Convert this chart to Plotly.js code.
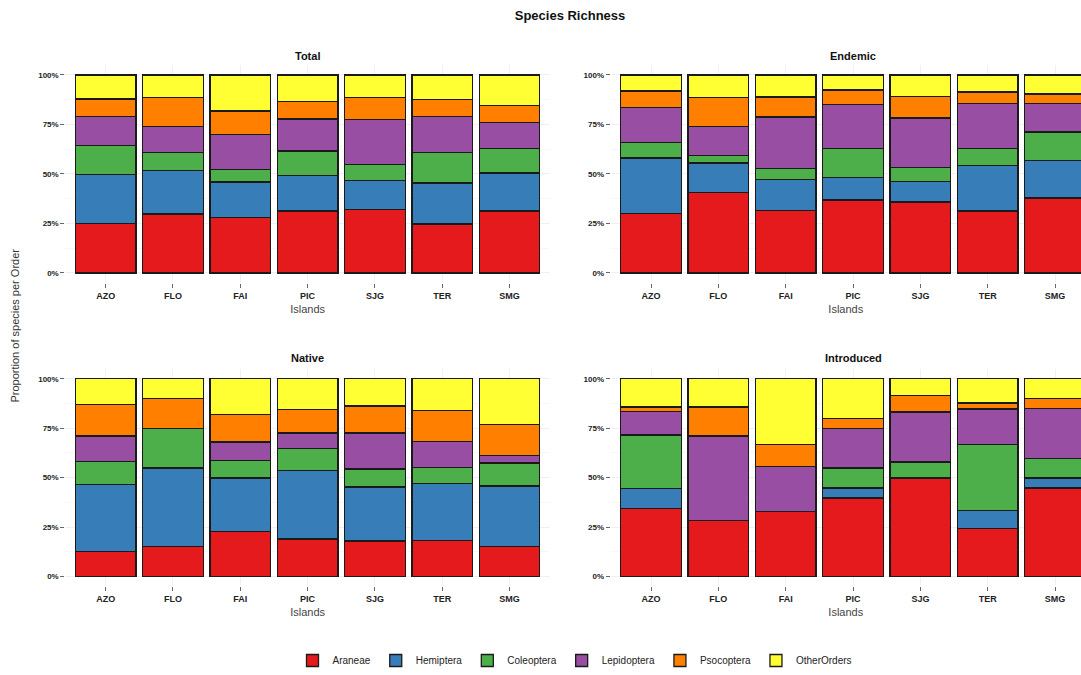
<!DOCTYPE html>
<html>
<head>
<meta charset="utf-8">
<script src="https://cdn.plot.ly/plotly-3.0.1.min.js"></script>
<style>
html,body{margin:0;padding:0;background:#fff;overflow:hidden;}
#chart{width:1081px;height:675px;}
</style>
</head>
<body>
<div id="chart"></div>
<script>
const islands = ["AZO", "FLO", "FAI", "PIC", "SJG", "TER", "SMG"];
const orders = ["Araneae", "Hemiptera", "Coleoptera", "Lepidoptera", "Psocoptera", "OtherOrders"];
const colors = ["#E41A1C", "#377EB8", "#4DAF4A", "#984EA3", "#FF7F00", "#FFFF33"];
const panels = ["Total", "Endemic", "Native", "Introduced"];

// percent of species per order (rows = orders, columns = islands)
const totalVals = [
  [24.9, 29.7, 28.1, 31.3, 32.1, 24.7, 31.3],
  [24.7, 21.9, 17.8, 17.8, 14.5, 20.7, 19.1],
  [14.8, 9.2, 6.2, 12.4, 8.2, 15.4, 12.3],
  [14.6, 13.1, 17.8, 16.3, 22.5, 18.2, 13.1],
  [8.9, 14.8, 11.9, 8.6, 11.4, 8.4, 8.9],
  [12.1, 11.3, 18.2, 13.6, 11.3, 12.6, 15.3]
];
const endemicVals = [
  [30.1, 40.5, 31.4, 36.8, 35.8, 31.3, 37.8],
  [27.9, 15.0, 15.8, 11.4, 10.4, 23.0, 19.0],
  [8.0, 3.7, 5.4, 14.5, 7.2, 8.6, 14.3],
  [17.7, 14.6, 26.2, 22.3, 24.9, 22.8, 14.4],
  [8.1, 14.8, 10.1, 7.3, 10.8, 5.6, 4.9],
  [8.2, 11.4, 11.1, 7.7, 10.9, 8.7, 9.6]
];
const nativeVals = [
  [12.6, 15.2, 22.6, 19.0, 18.0, 18.2, 15.3],
  [34.0, 39.7, 27.2, 34.5, 27.3, 28.9, 30.5],
  [11.5, 19.8, 9.0, 11.3, 9.1, 7.9, 11.6],
  [12.9, 0, 9.2, 7.8, 18.2, 13.2, 3.9],
  [16.0, 15.2, 13.8, 11.7, 13.6, 15.6, 15.5],
  [13.0, 10.1, 18.2, 15.7, 13.8, 16.2, 23.2]
];
const introducedVals = [
  [34.5, 28.3, 33.0, 39.7, 49.8, 24.2, 44.8],
  [10.1, 0, 0, 5.1, 0, 9.1, 5.0],
  [26.9, 0, 0, 10.1, 8.1, 33.5, 10.0],
  [11.8, 42.7, 22.6, 19.8, 25.3, 17.9, 25.0],
  [2.4, 14.7, 11.2, 5.3, 8.2, 3.0, 5.1],
  [14.3, 14.3, 33.2, 20.0, 8.6, 12.3, 10.1]
];
const panelVals = [totalVals, endemicVals, nativeVals, introducedVals];
const yTickVals = [0, 25, 50, 75, 100];
const yTickText = ["0%", "25%", "50%", "75%", "100%"];

const W = 1081, H = 675;
const FONT = "Liberation Sans, Arial, sans-serif";
const axisIds = ["", "2", "3", "4"];

const traces = [];
panels.forEach((p, pi) => {
  orders.forEach((o, oi) => {
    traces.push({
      type: "bar",
      name: o,
      x: islands,
      y: panelVals[pi][oi],
      xaxis: "x" + axisIds[pi],
      yaxis: "y" + axisIds[pi],
      marker: {color: colors[oi], line: {color: "#1a1a1a", width: 1.3}},
      legendgroup: o,
      showlegend: pi === 0,
      hovertemplate: p + " %{x}<br>" + o + ": %{y}%<extra></extra>"
    });
  });
});

// pixel geometry
const leftX = [65.3 / W, 549.9 / W];
const rightX = [610.6 / W, 1];
const rightRangeEnd = (W - 610.6) / 67.35 - 0.6;
const topY = [1 - 283.2 / H, 1 - 65.1 / H];
const botY = [1 - 587.2 / H, 1 - 369.4 / H];

function xAxis(domain, range, anchor) {
  return {
    domain: domain, range: range, anchor: anchor,
    type: "category",
    showgrid: true, gridcolor: "#f0f0f0", gridwidth: 1,
    zeroline: false, showline: false,
    ticks: "outside", ticklen: 4, tickcolor: "#666", tickwidth: 1,
    tickfont: {family: FONT, size: 9, color: "#222", weight: "bold"},
    title: {text: "Islands", font: {family: FONT, size: 11, color: "#444"}, standoff: 5},
    fixedrange: true
  };
}
function yAxis(domain, anchor) {
  return {
    domain: domain, anchor: anchor,
    range: [-5, 105],
    tickvals: yTickVals, ticktext: yTickText,
    showgrid: true, gridcolor: "#f0f0f0", gridwidth: 1,
    minor: {dtick: 12.5, tick0: 12.5, showgrid: true, gridcolor: "#f7f7f7", ticks: ""},
    zeroline: false, showline: false,
    ticks: "outside", ticklen: 4, tickcolor: "#666", tickwidth: 1,
    tickfont: {family: FONT, size: 8, color: "#222", weight: "bold"},
    fixedrange: true
  };
}

function label(text, x, y, extra) {
  return Object.assign({text: text, x: x, y: y, xref: "paper", yref: "paper",
    xanchor: "center", yanchor: "middle", showarrow: false,
    font: {family: FONT, size: 11, color: "#111"}}, extra || {});
}

const layout = {
  width: W, height: H,
  margin: {l: 0, r: 0, t: 0, b: 0},
  paper_bgcolor: "#fff", plot_bgcolor: "#fff",
  barmode: "stack", bargap: 0.1,
  font: {family: FONT, color: "#222"},
  title: {text: "<b>Species Richness</b>", x: 570 / W, xanchor: "center", y: 1 - 15 / H, yanchor: "middle",
          font: {family: FONT, size: 13, color: "#111"}},
  xaxis: xAxis(leftX, [-0.6, 6.6], "y"),
  yaxis: yAxis(topY, "x"),
  xaxis2: xAxis(rightX, [-0.6, rightRangeEnd], "y2"),
  yaxis2: yAxis(topY, "x2"),
  xaxis3: xAxis(leftX, [-0.6, 6.6], "y3"),
  yaxis3: yAxis(botY, "x3"),
  xaxis4: xAxis(rightX, [-0.6, rightRangeEnd], "y4"),
  yaxis4: yAxis(botY, "x4"),
  legend: {orientation: "h", x: 575 / W, xanchor: "center", y: 1 - 661 / H, yanchor: "middle",
           traceorder: "normal", font: {family: FONT, size: 10, color: "#222"}, itemclick: false},
  annotations: [
    label("<b>Total</b>", (leftX[0] + leftX[1]) / 2, 1 - 56 / H),
    label("<b>Endemic</b>", (610.6 + 1096) / 2 / W, 1 - 56 / H),
    label("<b>Native</b>", (leftX[0] + leftX[1]) / 2, 1 - 359 / H),
    label("<b>Introduced</b>", (610.6 + 1096) / 2 / W, 1 - 359 / H),
    label("Proportion of species per Order", 15 / W, 1 - 326 / H,
          {textangle: -90, font: {family: FONT, size: 11, color: "#333"}})
  ]
};

Plotly.newPlot("chart", traces, layout, {displayModeBar: false});
</script>
</body>
</html>
